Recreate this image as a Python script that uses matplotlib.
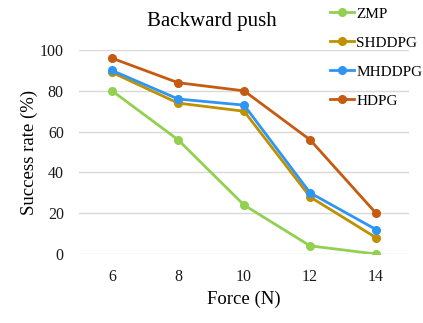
import numpy as np
import matplotlib
matplotlib.use('Agg')
from matplotlib import pyplot as plt

# data
forces = ['6', '8', '10', '12', '14']
zmp = [80, 56, 24, 4, 0]
shddpg = [89, 74, 70, 28, 8]
mhddpg = [90, 76, 73, 30, 12]
hdpg = [96, 84, 80, 56, 20]

series = [('ZMP', zmp, '#92D050'),
          ('SHDDPG', shddpg, '#BF9000'),
          ('MHDDPG', mhddpg, '#2E95F5'),
          ('HDPG', hdpg, '#C55A11')]

plt.rcParams['font.family'] = ['Liberation Serif', 'DejaVu Serif']

fig = plt.figure(figsize=(4.23, 3.23), dpi=100)
ax = fig.add_axes([0.187, 0.2136, 0.78, 0.6314])

x = np.arange(len(forces))
for name, vals, col in series:
    ax.plot(x, vals, color=col, lw=2, marker='o', ms=5.5, label=name)

ax.set_xlim(-0.5, 4.5)
ax.set_ylim(0, 100)
ax.set_xticks(x)
ax.set_xticklabels(forces)
ax.set_yticks(range(0, 101, 20))
ax.grid(axis='y', color='#D9D9D9', lw=1)
ax.set_axisbelow(True)
for s in ax.spines.values():
    s.set_visible(False)
ax.tick_params(length=0, labelsize=11.5, colors='#1a1a1a')
ax.tick_params(axis='x', pad=11)
ax.tick_params(axis='y', pad=11)

ax.set_xlabel('Force (N)', fontsize=13.5, labelpad=4)
ax.set_ylabel('Success rate (%)', fontsize=13.5, labelpad=1)
fig.text(0.5, 0.932, 'Backward push', ha='center', va='center', fontsize=15)

fig.legend(loc='upper left', bbox_to_anchor=(0.765, 0.997), frameon=False,
           fontsize=11, labelspacing=1.0, handlelength=1.6, handletextpad=0.15,
           borderaxespad=0)

fig.savefig('out.png', dpi=100)
